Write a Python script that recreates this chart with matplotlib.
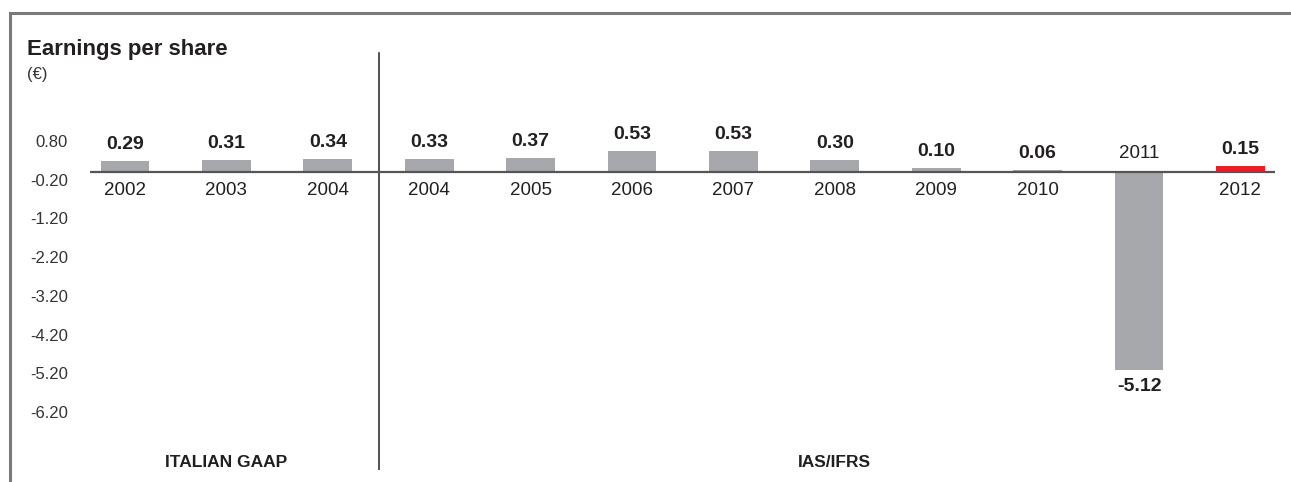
import matplotlib
matplotlib.use("Agg")
import matplotlib.pyplot as plt
from matplotlib.lines import Line2D
from matplotlib import font_manager

years = ["2002", "2003", "2004", "2004", "2005", "2006", "2007", "2008", "2009", "2010", "2011", "2012"]
eps = [0.29, 0.31, 0.34, 0.33, 0.37, 0.53, 0.53, 0.30, 0.10, 0.06, -5.12, 0.15]
value_labels = ["0.29", "0.31", "0.34", "0.33", "0.37", "0.53", "0.53", "0.30", "0.10", "0.06", "-5.12", "0.15"]
ytick_values = [0.8, -0.2, -1.2, -2.2, -3.2, -4.2, -5.2, -6.2]
ytick_labels = ["0.80", "-0.20", "-1.20", "-2.20", "-3.20", "-4.20", "-5.20", "-6.20"]
sections = ["ITALIAN GAAP", "IAS/IFRS"]
section_ranges = [(0, 2), (3, 11)]

avail = {f.name for f in font_manager.fontManager.ttflist}
fam = ["Liberation Sans Narrow"] if "Liberation Sans Narrow" in avail else ["Liberation Sans"]
plt.rcParams["font.family"] = fam + ["DejaVu Sans"]

TXT = "#231f20"
GRAY = "#a7a8ab"
RED = "#ed1c24"

W, H = 1291, 482
fig = plt.figure(figsize=(W / 100, H / 100), dpi=100)

left_px, right_px = 90, 1275
top_px, bot_px = 30, 470
ax = fig.add_axes([left_px / W, (H - bot_px) / H, (right_px - left_px) / W, (bot_px - top_px) / H])

x0, dx = 125, 101.4
zero_px, unit_px = 172, 38.7
ax.set_xlim((left_px - x0) / dx, (right_px - x0) / dx)
ax.set_ylim((zero_px - bot_px) / unit_px, (zero_px - top_px) / unit_px)

xs = list(range(len(years)))
colors = [GRAY] * (len(years) - 1) + [RED]
ax.bar(xs, eps, width=0.48, color=colors, zorder=2)
ax.axhline(0, color="#555555", lw=1.6, zorder=3)

for x, v, lab, yr in zip(xs, eps, value_labels, years):
    if v >= 0:
        ax.annotate(lab, (x, v), xytext=(0, 12), textcoords="offset points",
                    ha="center", va="center", fontsize=14, fontweight="bold", color=TXT)
        ax.annotate(yr, (x, 0), xytext=(0, -13), textcoords="offset points",
                    ha="center", va="center", fontsize=13.5, color=TXT)
    else:
        ax.annotate(lab, (x, v), xytext=(0, -11.5), textcoords="offset points",
                    ha="center", va="center", fontsize=14, fontweight="bold", color=TXT)
        ax.annotate(yr, (x, 0), xytext=(0, 13), textcoords="offset points",
                    ha="center", va="center", fontsize=13.5, color=TXT)

ymax_frac = (bot_px - 53) / (bot_px - top_px)
ax.axvline(2.5, ymin=0.0, ymax=ymax_frac, color=TXT, lw=1.1)

for name, (a, b) in zip(sections, section_ranges):
    ax.text((a + b) / 2, (zero_px - 463) / unit_px, name, ha="center", va="center",
            fontsize=12.5, fontweight="bold", color=TXT)

ax.set_yticks(ytick_values)
ax.set_yticklabels(ytick_labels, fontsize=12, color="#333333")
ax.tick_params(axis="y", length=0, pad=16)
ax.set_xticks([])
for s in ax.spines.values():
    s.set_visible(False)
ax.patch.set_alpha(0)

fig.text(27 / W, 1 - 50 / H, "Earnings per share", ha="left", va="center",
         fontsize=16, fontweight="bold", color=TXT)
fig.text(27 / W, 1 - 75 / H, "(€)", ha="left", va="center", fontsize=12, color="#333333")

fig.add_artist(Line2D([10 / W, 1.0], [1 - 13 / H, 1 - 13 / H], color="#7a7a7a", lw=2.2, transform=fig.transFigure))
fig.add_artist(Line2D([10 / W, 10 / W], [1 - 13 / H, 0], color="#7a7a7a", lw=2.2, transform=fig.transFigure))

fig.savefig("out.png", dpi=100)
